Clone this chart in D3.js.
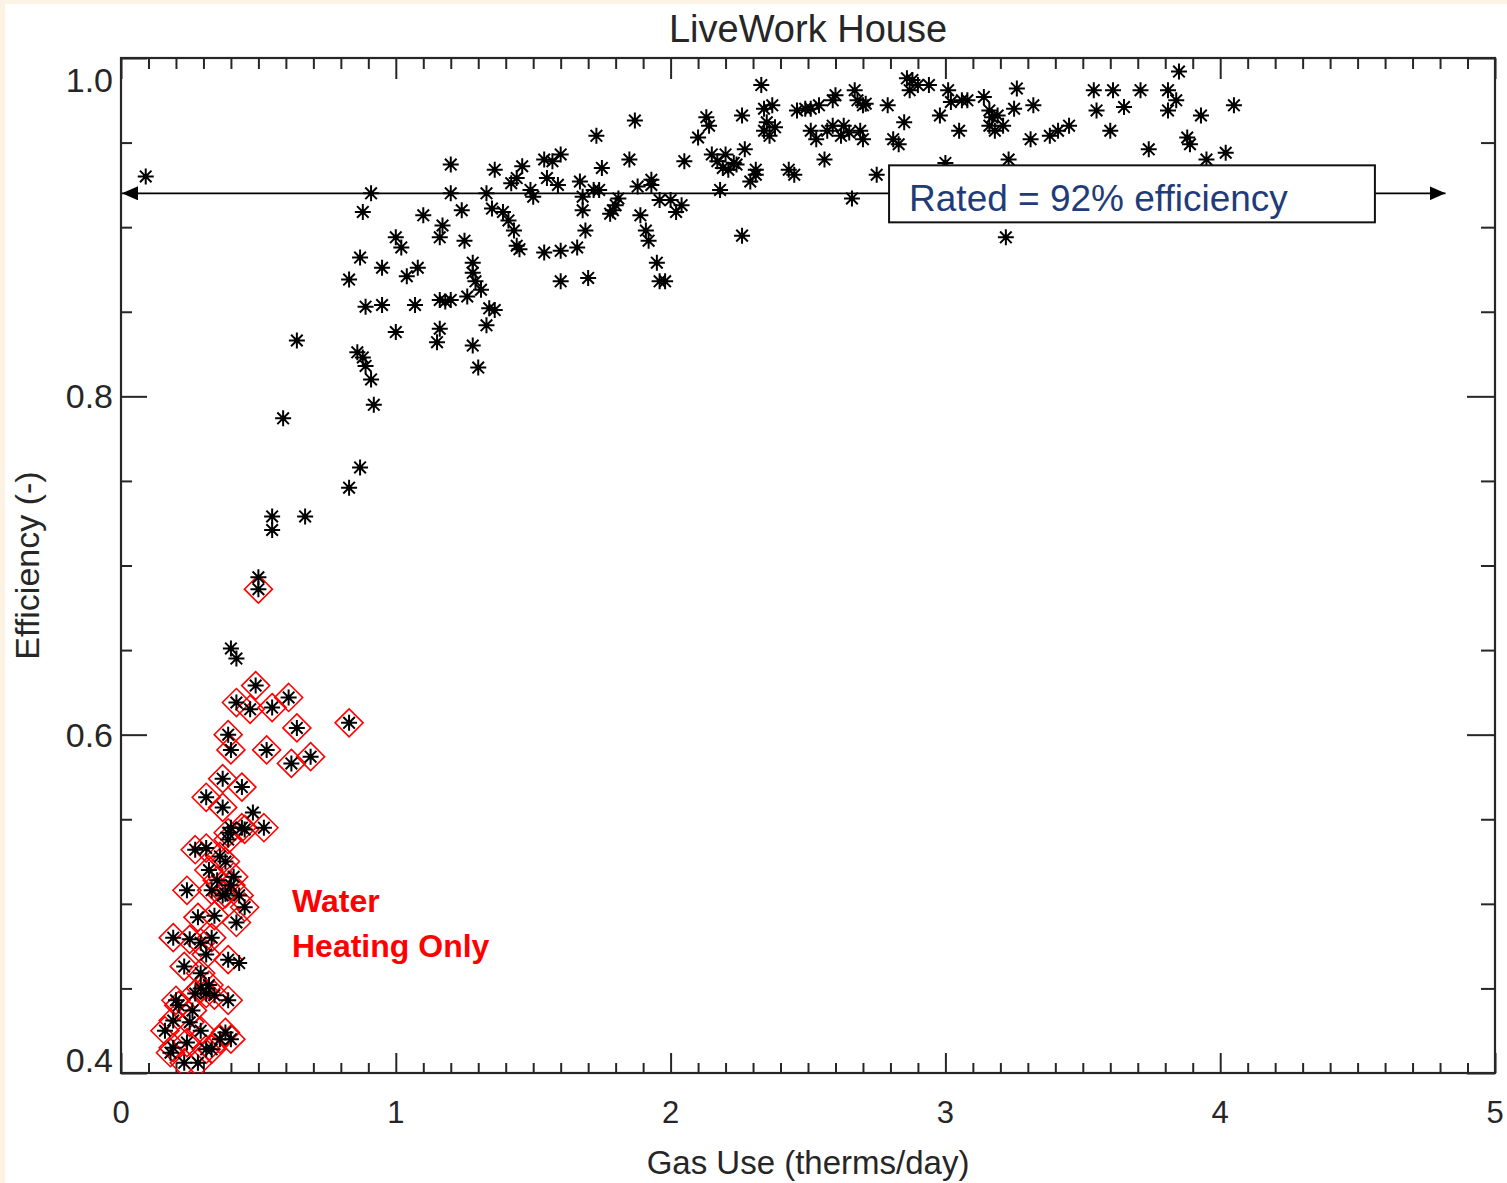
<!DOCTYPE html>
<html>
<head>
<meta charset="utf-8">
<script src="https://cdnjs.cloudflare.com/ajax/libs/d3/7.8.5/d3.min.js"></script>
<style>
  html, body { margin: 0; padding: 0; background: #ffffff; }
  svg { display: block; }
</style>
</head>
<body>
<svg id="chart" width="1507" height="1183"></svg>
<script>
// ---------------- data ----------------
const chartTitle = "LiveWork House";
const xTitle = "Gas Use (therms/day)";
const yTitle = "Efficiency (-)";
const xTickValues = [0, 1, 2, 3, 4, 5];
const xTickLabels = ["0", "1", "2", "3", "4", "5"];
const yTickValues = [0.4, 0.6, 0.8, 1.0];
const yTickLabels = ["0.4", "0.6", "0.8", "1.0"];
const ratedEfficiency = 0.92;
const ratedLabel = "Rated = 92% efficiency";
const waterLabel = ["Water", "Heating Only"];

// all days (black asterisks), gas use (therms/day)
const gasUse = [
  0.09, 0.88, 0.91, 0.87, 0.83, 0.89, 0.95, 0.95, 0.86, 0.88, 0.89, 0.91, 0.92, 0.87, 0.83,
  0.64, 0.59, 0.55, 0.55, 0.67, 1.00, 1.00, 1.02, 1.04, 1.07, 1.08, 1.10, 1.16, 1.17, 1.15,
  1.16, 1.16, 1.20, 1.18, 1.20, 1.20, 1.24, 1.25, 1.26, 1.29, 1.28, 1.28, 1.31, 1.28, 1.30,
  1.33, 1.34, 1.36, 1.33, 1.36, 1.35, 1.39, 1.41, 1.43, 1.44, 1.45, 1.46, 1.42, 1.44, 1.49,
  1.50, 1.54, 1.55, 1.57, 1.60, 1.59, 1.54, 1.60, 1.60, 1.66, 1.67, 1.68, 1.69, 1.70, 1.68,
  1.72, 1.73, 1.74, 1.75, 1.78, 1.79, 1.80, 1.81, 1.85, 1.87, 1.88, 1.89, 1.91, 1.92, 1.93,
  1.93, 1.95, 1.96, 1.98, 1.96, 2.00, 2.02, 2.04, 2.05, 2.10, 2.13, 2.14, 2.15, 2.17, 2.18,
  2.19, 2.20, 2.21, 2.23, 2.24, 2.26, 2.26, 2.27, 2.29, 2.31, 2.31, 2.33, 2.34, 2.34, 2.35,
  2.36, 2.37, 2.38, 2.43, 2.45, 2.46, 2.49, 2.51, 2.51, 2.53, 2.54, 2.56, 2.57, 2.59, 2.59,
  2.60, 2.62, 2.63, 2.65, 2.67, 2.68, 2.69, 2.70, 2.70, 2.71, 2.66, 2.75, 2.79, 2.81, 2.83,
  2.85, 2.86, 2.87, 2.88, 2.90, 2.94, 2.98, 3.00, 3.01, 3.02, 3.05, 3.06, 3.08, 3.14, 3.16,
  3.16, 3.17, 3.18, 3.19, 3.21, 3.22, 3.23, 3.26, 3.25, 3.32, 3.31, 3.38, 3.41, 3.45, 3.54,
  3.55, 3.61, 3.60, 3.65, 3.71, 3.74, 3.81, 3.84, 3.81, 3.85, 3.88, 3.89, 3.93, 3.95, 4.02,
  4.05,
  0.50, 0.40, 0.42, 0.48, 0.43, 0.40
];
// all days (black asterisks), efficiency (-)
const efficiency = [
  0.930, 0.909, 0.920, 0.882, 0.869, 0.853, 0.854, 0.876, 0.826, 0.823, 0.818, 0.810, 0.795, 0.758, 0.746,
  0.833, 0.787, 0.729, 0.721, 0.729, 0.838, 0.894, 0.888, 0.871, 0.854, 0.876, 0.907, 0.894, 0.901, 0.832,
  0.840, 0.857, 0.857, 0.856, 0.937, 0.920, 0.910, 0.892, 0.859, 0.868, 0.879, 0.873, 0.863, 0.830, 0.817,
  0.842, 0.852, 0.851, 0.920, 0.934, 0.911, 0.909, 0.904, 0.898, 0.889, 0.887, 0.936, 0.926, 0.929, 0.922,
  0.918, 0.940, 0.929, 0.939, 0.943, 0.925, 0.885, 0.886, 0.868, 0.888, 0.927, 0.910, 0.898, 0.870, 0.918,
  0.922, 0.954, 0.922, 0.935, 0.908, 0.910, 0.913, 0.917, 0.940, 0.963, 0.924, 0.907, 0.898, 0.892, 0.925,
  0.928, 0.879, 0.868, 0.868, 0.916, 0.916, 0.909, 0.913, 0.939, 0.953, 0.965, 0.960, 0.943, 0.939, 0.922,
  0.935, 0.943, 0.934, 0.938, 0.937, 0.966, 0.895, 0.946, 0.927, 0.931, 0.934, 0.984, 0.957, 0.970, 0.962,
  0.954, 0.972, 0.959, 0.934, 0.931, 0.969, 0.970, 0.957, 0.970, 0.952, 0.972, 0.940, 0.957, 0.975, 0.960,
  0.978, 0.954, 0.960, 0.956, 0.981, 0.975, 0.957, 0.972, 0.952, 0.973, 0.917, 0.931, 0.972, 0.952, 0.949,
  0.962, 0.988, 0.981, 0.987, 0.984, 0.984, 0.966, 0.938, 0.981, 0.974, 0.957, 0.975, 0.975, 0.977, 0.969,
  0.960, 0.965, 0.957, 0.966, 0.960, 0.894, 0.940, 0.982, 0.970, 0.972, 0.952, 0.954, 0.957, 0.960, 0.981,
  0.969, 0.981, 0.957, 0.971, 0.981, 0.946, 0.981, 0.975, 0.969, 0.992, 0.953, 0.949, 0.966, 0.940, 0.944,
  0.972,
  0.693, 0.651, 0.645, 0.554, 0.465, 0.545
];
// water-heating-only days (red diamonds, also drawn as asterisks)
const whGasUse = [
  0.50, 0.49, 0.42, 0.47, 0.55, 0.61, 0.64, 0.83, 0.39, 0.40, 0.53, 0.62, 0.69, 0.37, 0.44,
  0.31, 0.37, 0.52, 0.44, 0.39, 0.27, 0.31, 0.39, 0.45, 0.36, 0.24, 0.35, 0.38, 0.33, 0.45,
  0.42, 0.28, 0.19, 0.29, 0.33, 0.39, 0.23, 0.29, 0.29, 0.20, 0.27, 0.31, 0.39, 0.19, 0.25,
  0.19, 0.24, 0.31, 0.38, 0.33, 0.18, 0.28,
  0.21, 0.26, 0.32, 0.34, 0.29, 0.36, 0.40, 0.32, 0.37, 0.40, 0.34, 0.25, 0.31, 0.41, 0.38,
  0.43, 0.23, 0.16
];
const whEfficiency = [
  0.686, 0.629, 0.619, 0.615, 0.616, 0.622, 0.604, 0.607, 0.600, 0.591, 0.591, 0.583, 0.587, 0.574, 0.569,
  0.563, 0.557, 0.545, 0.545, 0.542, 0.532, 0.533, 0.538, 0.544, 0.528, 0.508, 0.514, 0.506, 0.508, 0.498,
  0.489, 0.492, 0.480, 0.477, 0.480, 0.467, 0.463, 0.459, 0.450, 0.443, 0.447, 0.447, 0.443, 0.431, 0.430,
  0.415, 0.418, 0.414, 0.424, 0.414, 0.412, 0.406,
  0.440, 0.437, 0.452, 0.446, 0.425, 0.420, 0.420, 0.520, 0.505, 0.511, 0.493, 0.479, 0.470, 0.516, 0.525,
  0.505, 0.406, 0.425
];

// ---------------- layout ----------------
const W = 1507, H = 1183;
const plot = { left: 121, right: 1495, top: 58, bottom: 1073 };
const fontAxis = "'Liberation Sans', Arial, sans-serif";
const ink = "#262626";

const svg = d3.select("#chart");
svg.append("rect").attr("x", 0).attr("y", 0).attr("width", W).attr("height", H).attr("fill", "#ffffff");
svg.append("rect").attr("x", 0).attr("y", 0).attr("width", W).attr("height", 4).attr("fill", "#fdf3e4");
svg.append("rect").attr("x", 0).attr("y", 0).attr("width", 5).attr("height", H).attr("fill", "#fdf3e4");

const x = d3.scaleLinear().domain([0, 5]).range([plot.left, plot.right]);
const y = d3.scaleLinear().domain([0.4, 1.0]).range([plot.bottom, plot.top]);

const xMinor = d3.range(0, 50).map(i => i / 10).filter(v => Math.abs(v - Math.round(v)) > 1e-6);
const yMinor = d3.range(8, 20).map(i => i / 20).filter(v => Math.abs(v * 5 - Math.round(v * 5)) > 1e-6);

function styleAxis(g) {
  g.select(".domain").remove();
  g.selectAll(".tick line").attr("stroke", ink).attr("stroke-width", 2);
  g.selectAll(".tick text").remove();
}

// bottom (ticks upward)
svg.append("g").attr("transform", `translate(0,${plot.bottom})`)
  .call(d3.axisTop(x).tickValues(xTickValues).tickSize(20)).call(styleAxis);
svg.append("g").attr("transform", `translate(0,${plot.bottom})`)
  .call(d3.axisTop(x).tickValues(xMinor).tickSize(10)).call(styleAxis);
// top (ticks downward)
svg.append("g").attr("transform", `translate(0,${plot.top})`)
  .call(d3.axisBottom(x).tickValues(xTickValues).tickSize(21)).call(styleAxis);
svg.append("g").attr("transform", `translate(0,${plot.top})`)
  .call(d3.axisBottom(x).tickValues(xMinor).tickSize(11)).call(styleAxis);
// left (ticks rightward)
svg.append("g").attr("transform", `translate(${plot.left},0)`)
  .call(d3.axisRight(y).tickValues(yTickValues).tickSize(26)).call(styleAxis);
svg.append("g").attr("transform", `translate(${plot.left},0)`)
  .call(d3.axisRight(y).tickValues(yMinor).tickSize(11)).call(styleAxis);
// right (ticks leftward)
svg.append("g").attr("transform", `translate(${plot.right},0)`)
  .call(d3.axisLeft(y).tickValues(yTickValues).tickSize(28)).call(styleAxis);
svg.append("g").attr("transform", `translate(${plot.right},0)`)
  .call(d3.axisLeft(y).tickValues(yMinor).tickSize(14)).call(styleAxis);

// frame
svg.append("rect")
  .attr("x", plot.left).attr("y", plot.top)
  .attr("width", plot.right - plot.left).attr("height", plot.bottom - plot.top)
  .attr("fill", "none").attr("stroke", ink).attr("stroke-width", 2.2);

// tick labels
svg.append("g").selectAll("text").data(xTickValues).join("text")
  .attr("x", d => x(d)).attr("y", 1123)
  .attr("text-anchor", "middle")
  .attr("font-family", fontAxis).attr("font-size", 31).attr("fill", ink)
  .text((d, i) => xTickLabels[i]);

svg.append("g").selectAll("text").data(yTickValues).join("text")
  .attr("x", 113)
  .attr("y", d => Math.min(Math.max(y(d), plot.top + 22), plot.bottom - 13) + 12)
  .attr("text-anchor", "end")
  .attr("font-family", fontAxis).attr("font-size", 34).attr("fill", ink)
  .text((d, i) => yTickLabels[i]);

// titles
svg.append("text").attr("x", (plot.left + plot.right) / 2).attr("y", 42)
  .attr("text-anchor", "middle").attr("font-family", fontAxis).attr("font-size", 38).attr("fill", ink)
  .text(chartTitle);
svg.append("text").attr("x", (plot.left + plot.right) / 2).attr("y", 1174)
  .attr("text-anchor", "middle").attr("font-family", fontAxis).attr("font-size", 33).attr("fill", ink)
  .text(xTitle);
svg.append("text")
  .attr("transform", `translate(39,${(plot.top + plot.bottom) / 2}) rotate(-90)`)
  .attr("text-anchor", "middle").attr("font-family", fontAxis).attr("font-size", 34).attr("fill", ink)
  .text(yTitle);

// clip
svg.append("clipPath").attr("id", "plotclip").append("rect")
  .attr("x", plot.left).attr("y", plot.top)
  .attr("width", plot.right - plot.left).attr("height", plot.bottom - plot.top);

// rated arrow
const defs = svg.append("defs");
defs.append("marker").attr("id", "arrowEnd").attr("viewBox", "0 0 16 14")
  .attr("refX", 16).attr("refY", 7).attr("markerWidth", 16).attr("markerHeight", 14)
  .attr("markerUnits", "userSpaceOnUse").attr("orient", "auto")
  .append("path").attr("d", "M0,0L16,7L0,14Z").attr("fill", "#000");
defs.append("marker").attr("id", "arrowStart").attr("viewBox", "0 0 16 14")
  .attr("refX", 16).attr("refY", 7).attr("markerWidth", 16).attr("markerHeight", 14)
  .attr("markerUnits", "userSpaceOnUse").attr("orient", "auto-start-reverse")
  .append("path").attr("d", "M0,0L16,7L0,14Z").attr("fill", "#000");

// markers
const ast = "M-8,0L8,0M0,-8L0,8M-5.8,-5.8L5.8,5.8M-5.8,5.8L5.8,-5.8";
const diamond = "M0,-14L14,0L0,14L-14,0Z";

const pts = svg.append("g").attr("clip-path", "url(#plotclip)");
const allPts = gasUse.map((g, i) => [g, efficiency[i]]);
const whPts = whGasUse.map((g, i) => [g, whEfficiency[i]]);

pts.selectAll("path.dia").data(whPts).join("path").attr("class", "dia")
  .attr("transform", d => `translate(${x(d[0])},${y(d[1])})`)
  .attr("d", diamond).attr("fill", "none").attr("stroke", "#ff0000").attr("stroke-width", 1.6);

pts.selectAll("path.ast").data(allPts.concat(whPts)).join("path").attr("class", "ast")
  .attr("transform", d => `translate(${x(d[0])},${y(d[1])})`)
  .attr("d", ast).attr("fill", "none").attr("stroke", "#000").attr("stroke-width", 2);
pts.selectAll("circle.ctr").data(allPts.concat(whPts)).join("circle").attr("class", "ctr")
  .attr("cx", d => x(d[0])).attr("cy", d => y(d[1])).attr("r", 2.6).attr("fill", "#000");

// arrow line + box
svg.append("line")
  .attr("x1", x(0) + 1).attr("x2", x(4.82))
  .attr("y1", y(ratedEfficiency)).attr("y2", y(ratedEfficiency))
  .attr("stroke", "#000").attr("stroke-width", 1.6)
  .attr("marker-start", "url(#arrowStart)").attr("marker-end", "url(#arrowEnd)");

const boxX0 = x(2.795), boxX1 = x(4.563);
svg.append("rect")
  .attr("x", boxX0).attr("y", y(ratedEfficiency) - 28)
  .attr("width", boxX1 - boxX0).attr("height", 57)
  .attr("fill", "#ffffff").attr("stroke", "#111").attr("stroke-width", 2);
svg.append("text")
  .attr("x", boxX0 + 20).attr("y", y(ratedEfficiency) + 18)
  .attr("font-family", fontAxis).attr("font-size", 37).attr("fill", "#1f3c78")
  .text(ratedLabel);

// water heating label
svg.append("g").selectAll("text").data(waterLabel).join("text")
  .attr("x", 292).attr("y", (d, i) => 912 + i * 45)
  .attr("font-family", fontAxis).attr("font-weight", "bold").attr("font-size", 32)
  .attr("fill", "#ff0000")
  .text(d => d);
</script>
</body>
</html>
